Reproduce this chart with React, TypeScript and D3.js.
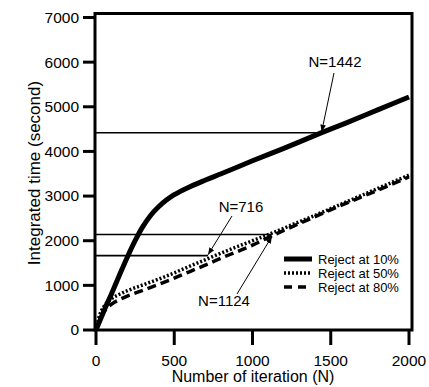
import React from "react";
import * as d3 from "d3";

const xTicks = [0, 500, 1000, 1500, 2000];
const yTicks = [0, 1000, 2000, 3000, 4000, 5000, 6000, 7000];

const nR10 = [0, 50, 100, 150, 200, 250, 300, 350, 400, 450, 500, 600, 700, 800, 1000, 1200, 1442, 1600, 1800, 2000];
const vR10 = [0, 420, 820, 1230, 1630, 2000, 2320, 2570, 2760, 2910, 3030, 3210, 3360, 3500, 3790, 4070, 4420, 4640, 4930, 5220];

const nR50 = [0, 20, 50, 100, 150, 200, 300, 400, 500, 600, 716, 800, 1000, 1124, 1200, 1400, 1600, 1800, 2000];
const vR50 = [0, 300, 520, 700, 800, 880, 1010, 1140, 1280, 1430, 1600, 1725, 2000, 2170, 2280, 2570, 2870, 3170, 3470];

const nR80 = [0, 20, 50, 100, 150, 200, 300, 400, 500, 600, 716, 800, 1000, 1124, 1200, 1400, 1600, 1800, 2000];
const vR80 = [0, 200, 400, 580, 680, 760, 890, 1020, 1160, 1310, 1480, 1610, 1900, 2110, 2230, 2540, 2840, 3130, 3430];

const seriesNames = ["Reject at 10%", "Reject at 50%", "Reject at 80%"];

// reference lines: N where each horizontal line ends, and its level
const refN = [1442, 1124, 716];
const refV = [4420, 2140, 1665];
const refLabels = ["N=1442", "N=1124", "N=716"];

export default function App() {
  const W = 429, H = 387;
  const x = d3.scaleLinear().domain([0, 2000]).range([96, 409]);
  const y = d3.scaleLinear().domain([0, 7000]).range([330, 17.5]);
  const line = d3.line<[number, number]>().x(d => x(d[0])).y(d => y(d[1])).curve(d3.curveMonotoneX);
  const pts = (ns: number[], vs: number[]) => ns.map((n, i) => [n, vs[i]] as [number, number]);
  const font = "'Liberation Sans', Arial, Helvetica, sans-serif";
  const left = 95, right = 412, top = 13.5, bottom = 330;

  const ann = [
    { tx: 335, ty: 67, ax: 334, ay: 73, dy: -1 },
    { tx: 224, ty: 306, ax: 237, ay: 294, dy: 2 },
    { tx: 241, ty: 212, ax: 232, ay: 216, dy: -1 },
  ];

  const legendDash = [undefined, "2 2", "8 6"];

  return (
    <svg width={W} height={H} style={{ position: "absolute", left: 0, top: 0, background: "#fff" }} fontFamily={font}>
      <defs>
        <marker id="arr" viewBox="0 0 10 10" refX="10" refY="5" markerWidth="7" markerHeight="7" orient="auto" markerUnits="userSpaceOnUse">
          <path d="M0,1 L10,5 L0,9 Z" fill="#000" />
        </marker>
      </defs>
      <rect x={0} y={0} width={W} height={H} fill="#fff" />
      {refN.map((n, i) => (
        <line key={"h" + i} x1={left} x2={x(n)} y1={y(refV[i])} y2={y(refV[i])} stroke="#000" strokeWidth={1.6} />
      ))}
      <path d={line(pts(nR10, vR10)) || ""} fill="none" stroke="#000" strokeWidth={5} />
      <path d={line(pts(nR50, vR50)) || ""} fill="none" stroke="#000" strokeWidth={3.5} strokeDasharray="2 2" />
      <path d={line(pts(nR80, vR80)) || ""} fill="none" stroke="#000" strokeWidth={3.5} strokeDasharray="9 5" />
      <rect x={left} y={top} width={right - left} height={bottom - top} fill="none" stroke="#000" strokeWidth={3} />
      {xTicks.map(t => (
        <g key={"xt" + t}>
          <line x1={x(t)} x2={x(t)} y1={bottom} y2={bottom + 15} stroke="#000" strokeWidth={3} />
          <text x={x(t)} y={366} fontSize={15.5} textAnchor="middle">{t}</text>
        </g>
      ))}
      {yTicks.map(t => (
        <g key={"yt" + t}>
          <line x1={left - 12} x2={left} y1={y(t)} y2={y(t)} stroke="#000" strokeWidth={3} />
          <text x={79} y={y(t)} dy="0.35em" fontSize={15.5} textAnchor="end">{t}</text>
        </g>
      ))}
      <text x={253} y={382} fontSize={16} textAnchor="middle">Number of iteration (N)</text>
      <text transform="translate(40,173) rotate(-90)" fontSize={17} textAnchor="middle">Integrated time (second)</text>
      {refN.map((n, i) => (
        <g key={"a" + i}>
          <text x={ann[i].tx} y={ann[i].ty} fontSize={15} textAnchor="middle">{refLabels[i]}</text>
          <line x1={ann[i].ax} y1={ann[i].ay} x2={x(n)} y2={y(refV[i]) + ann[i].dy} stroke="#000" strokeWidth={1} markerEnd="url(#arr)" />
        </g>
      ))}
      {seriesNames.map((s, i) => (
        <g key={"lg" + i}>
          <line x1={284} x2={312} y1={259 + i * 14} y2={259 + i * 14} stroke="#000" strokeWidth={i === 0 ? 5 : 3.5} strokeDasharray={legendDash[i]} />
          <text x={318} y={259 + i * 14} dy="0.35em" fontSize={13}>{s}</text>
        </g>
      ))}
    </svg>
  );
}
